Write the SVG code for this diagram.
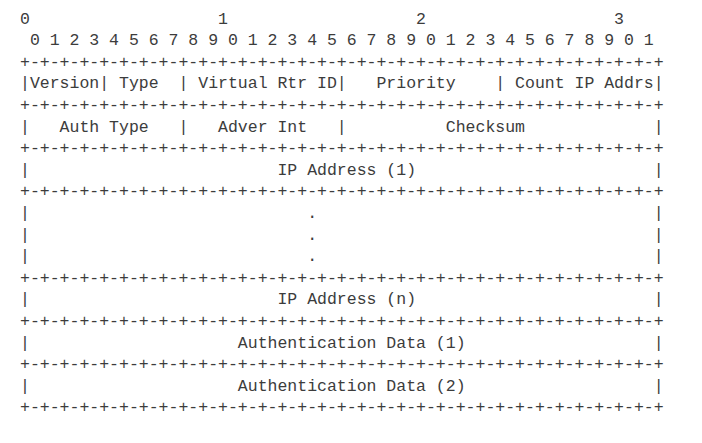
<svg xmlns="http://www.w3.org/2000/svg" width="702" height="443" viewBox="0 0 702 443">
<style>
  text { font-family: "Liberation Mono", "DejaVu Sans Mono", monospace; font-size: 16.5px; fill: #3c3c3c; white-space: pre; }
</style>
<rect width="702" height="443" fill="#ffffff"/>
<g id="bit-ruler">
  <text x="20" y="23.5" xml:space="preserve">0                   1                   2                   3</text>
  <text x="20" y="45.1" xml:space="preserve"> 0 1 2 3 4 5 6 7 8 9 0 1 2 3 4 5 6 7 8 9 0 1 2 3 4 5 6 7 8 9 0 1</text>
</g>
<g id="borders">
  <text x="20" y="66.7">+-+-+-+-+-+-+-+-+-+-+-+-+-+-+-+-+-+-+-+-+-+-+-+-+-+-+-+-+-+-+-+-+</text>
  <text x="20" y="109.9">+-+-+-+-+-+-+-+-+-+-+-+-+-+-+-+-+-+-+-+-+-+-+-+-+-+-+-+-+-+-+-+-+</text>
  <text x="20" y="153.1">+-+-+-+-+-+-+-+-+-+-+-+-+-+-+-+-+-+-+-+-+-+-+-+-+-+-+-+-+-+-+-+-+</text>
  <text x="20" y="196.3">+-+-+-+-+-+-+-+-+-+-+-+-+-+-+-+-+-+-+-+-+-+-+-+-+-+-+-+-+-+-+-+-+</text>
  <text x="20" y="282.7">+-+-+-+-+-+-+-+-+-+-+-+-+-+-+-+-+-+-+-+-+-+-+-+-+-+-+-+-+-+-+-+-+</text>
  <text x="20" y="325.9">+-+-+-+-+-+-+-+-+-+-+-+-+-+-+-+-+-+-+-+-+-+-+-+-+-+-+-+-+-+-+-+-+</text>
  <text x="20" y="369.1">+-+-+-+-+-+-+-+-+-+-+-+-+-+-+-+-+-+-+-+-+-+-+-+-+-+-+-+-+-+-+-+-+</text>
  <text x="20" y="412.3">+-+-+-+-+-+-+-+-+-+-+-+-+-+-+-+-+-+-+-+-+-+-+-+-+-+-+-+-+-+-+-+-+</text>
</g>
<g id="row-header1">
  <text x="20" y="88.3" xml:space="preserve">|Version| Type  | Virtual Rtr ID|   Priority    | Count IP Addrs|</text>
</g>
<g id="row-header2">
  <text x="20" y="131.5" xml:space="preserve">|   Auth Type   |   Adver Int   |          Checksum             |</text>
</g>
<g id="row-ip1">
  <text x="20" y="174.7" xml:space="preserve">|                         IP Address (1)                        |</text>
</g>
<g id="row-ellipsis">
  <text x="20" y="217.9" xml:space="preserve">|                            .                                  |</text>
  <text x="20" y="239.5" xml:space="preserve">|                            .                                  |</text>
  <text x="20" y="261.1" xml:space="preserve">|                            .                                  |</text>
</g>
<g id="row-ipn">
  <text x="20" y="304.3" xml:space="preserve">|                         IP Address (n)                        |</text>
</g>
<g id="row-auth1">
  <text x="20" y="347.5" xml:space="preserve">|                     Authentication Data (1)                   |</text>
</g>
<g id="row-auth2">
  <text x="20" y="390.7" xml:space="preserve">|                     Authentication Data (2)                   |</text>
</g>
</svg>
